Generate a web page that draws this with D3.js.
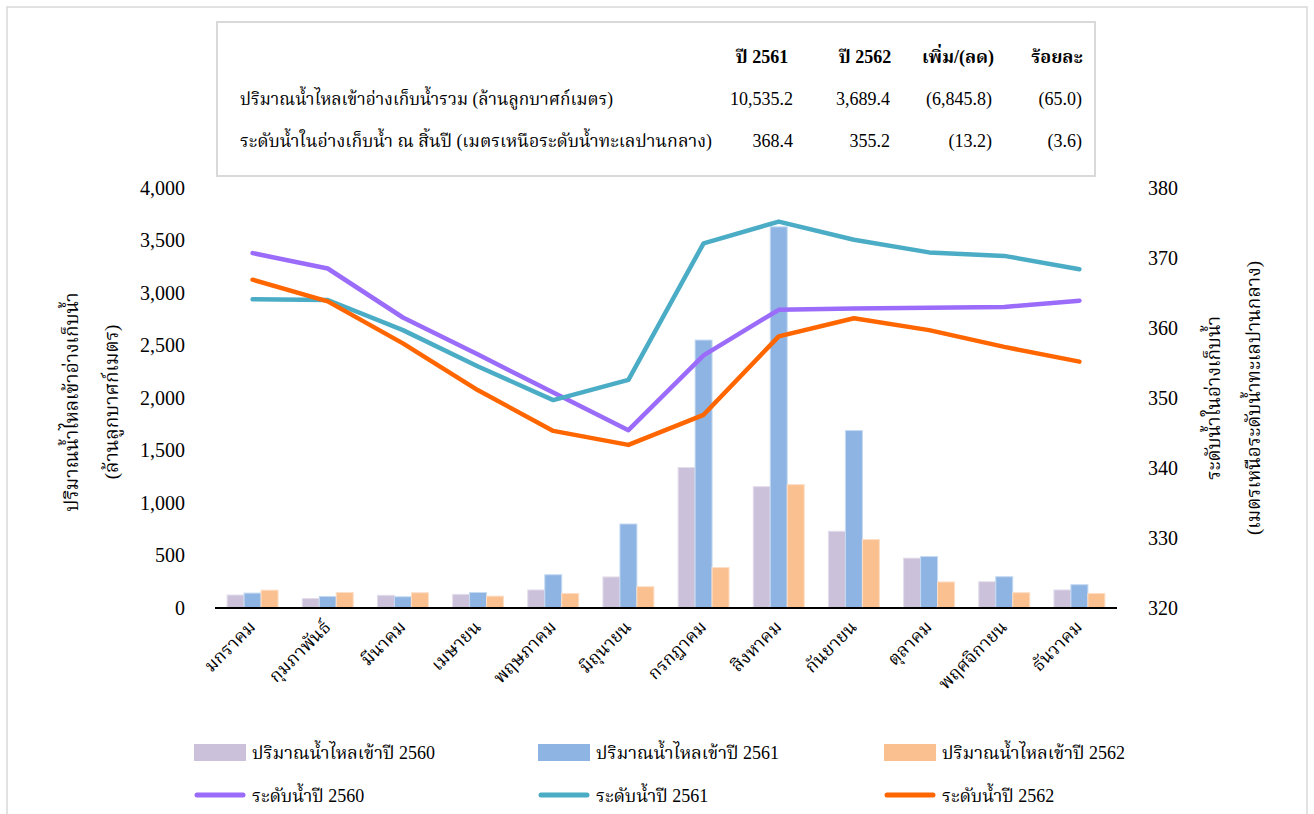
<!DOCTYPE html>
<html><head><meta charset="utf-8">
<script src="https://cdn.jsdelivr.net/npm/d3@7/dist/d3.min.js"></script>
<style>
body{margin:0;background:#fff;}
text{font-family:"Liberation Serif","Noto Serif Thai","Noto Sans Thai","Times New Roman",serif;fill:#000;}
</style></head>
<body><svg id="c" width="1314" height="814"></svg>
<script>
const months = ["มกราคม","กุมภาพันธ์","มีนาคม","เมษายน","พฤษภาคม","มิถุนายน","กรกฎาคม","สิงหาคม","กันยายน","ตุลาคม","พฤศจิกายน","ธันวาคม"];
const inflow2560 = [124, 90, 121, 130, 172, 296, 1338, 1156, 731, 475, 250, 172];
const inflow2561 = [142, 110, 107, 148, 317, 800, 2552, 3630, 1690, 490, 298, 222];
const inflow2562 = [170, 148, 145, 113, 139, 203, 385, 1175, 652, 248, 146, 139];
const level2560 = [370.7, 368.5, 361.5, 356.2, 350.8, 345.4, 356.1, 362.6, 362.8, 362.9, 363.0, 363.9];
const level2561 = [364.1, 364.0, 359.7, 354.5, 349.7, 352.6, 372.1, 375.2, 372.6, 370.8, 370.3, 368.4];
const level2562 = [366.9, 363.8, 357.8, 351.1, 345.3, 343.3, 347.6, 358.8, 361.4, 359.7, 357.3, 355.2];
const leftTicks = [0,500,1000,1500,2000,2500,3000,3500,4000];
const rightTicks = [320,330,340,350,360,370,380];
const barNames = ["ปริมาณน้ำไหลเข้าปี 2560","ปริมาณน้ำไหลเข้าปี 2561","ปริมาณน้ำไหลเข้าปี 2562"];
const lineNames = ["ระดับน้ำปี 2560","ระดับน้ำปี 2561","ระดับน้ำปี 2562"];
const tableHeader = ["ปี 2561","ปี 2562","เพิ่ม/(ลด)","ร้อยละ"];
const tableRows = [
  ["ปริมาณน้ำไหลเข้าอ่างเก็บน้ำรวม (ล้านลูกบาศก์เมตร)","10,535.2","3,689.4","(6,845.8)","(65.0)"],
  ["ระดับน้ำในอ่างเก็บน้ำ ณ สิ้นปี (เมตรเหนือระดับน้ำทะเลปานกลาง)","368.4","355.2","(13.2)","(3.6)"]
];
const barColors = ["#CCC1DA","#8EB4E3","#FAC090"];
const barStroke = ["#E4DEEC","#C6DAF1","#FCDFC7"];
const lineColors = ["#9B6BFA","#4BACC6","#FF6600"];

const svg = d3.select("#c");
svg.append("rect").attr("x",7).attr("y",7).attr("width",1300).attr("height",815)
  .attr("fill","#fff").attr("stroke","#d9d9d9").attr("stroke-width",1.5);

// table box
svg.append("rect").attr("x",217).attr("y",22).attr("width",878).attr("height",154)
  .attr("fill","#fff").attr("stroke","#d9d9d9").attr("stroke-width",2);
const colRight = [793, 890, 992, 1082];
const colCenter = [762, 865, 958, 1057];
tableHeader.forEach((h,i)=>{
  svg.append("text").attr("x",colCenter[i]).attr("y",63).attr("text-anchor","middle")
    .attr("font-size",18).attr("font-weight","bold").text(h);
});
const labelW = [373, 472];
tableRows.forEach((r,j)=>{
  const y = 105 + j*42;
  svg.append("text").attr("x",240).attr("y",y).attr("font-size",18)
    .attr("textLength",labelW[j]).attr("lengthAdjust","spacingAndGlyphs").text(r[0]);
  for(let i=1;i<5;i++){
    svg.append("text").attr("x",colRight[i-1]).attr("y",y).attr("text-anchor","end")
      .attr("font-size",18).text(r[i]);
  }
});

// scales
const x = d3.scaleBand().domain(months).range([215,1117]).padding(0);
const x1 = d3.scaleBand().domain([0,1,2]).range([12.1, x.bandwidth()-12.1]).padding(0);
const yL = d3.scaleLinear().domain([0,4000]).range([608,188]);
const yR = d3.scaleLinear().domain([320,380]).range([608,188]);

// axes
const axL = svg.append("g").attr("transform","translate(188,0)")
  .call(d3.axisLeft(yL).tickValues(leftTicks).tickSize(0).tickPadding(3).tickFormat(d3.format(",")));
axL.select(".domain").remove();
axL.selectAll("text").attr("font-size",20).attr("font-family","Liberation Serif").attr("fill","#000");
const axR = svg.append("g").attr("transform","translate(1145,0)")
  .call(d3.axisRight(yR).tickValues(rightTicks).tickSize(0).tickPadding(3));
axR.select(".domain").remove();
axR.selectAll("text").attr("font-size",20).attr("font-family","Liberation Serif").attr("fill","#000");

// bars
const series = [inflow2560, inflow2561, inflow2562];
series.forEach((s,k)=>{
  svg.append("g").selectAll("rect").data(s).join("rect")
    .attr("x",(d,i)=>x(months[i])+x1(k))
    .attr("width",x1.bandwidth())
    .attr("y",d=>yL(d))
    .attr("height",d=>yL(0)-yL(d))
    .attr("fill",barColors[k]).attr("stroke",barStroke[k]).attr("stroke-width",1);
});

// x axis line
svg.append("line").attr("x1",215).attr("x2",1117).attr("y1",608).attr("y2",608)
  .attr("stroke","#000").attr("stroke-width",2);

// lines
const levels = [level2560, level2561, level2562];
const lineGen = d3.line().x((d,i)=>x(months[i])+x.bandwidth()/2).y(d=>yR(d));
levels.forEach((s,k)=>{
  svg.append("path").datum(s).attr("d",lineGen).attr("fill","none")
    .attr("stroke",lineColors[k]).attr("stroke-width",4.5)
    .attr("stroke-linecap","round").attr("stroke-linejoin","round");
});

// x labels
svg.append("g").selectAll("text").data(months).join("text")
  .attr("transform",d=>`translate(${x(d)+x.bandwidth()/2+4},628) rotate(-45)`)
  .attr("text-anchor","end").attr("font-size",18).text(d=>d);

// axis titles
const tL = svg.append("text").attr("transform","translate(78,402) rotate(-90)")
  .attr("text-anchor","middle").attr("font-size",19);
tL.append("tspan").attr("x",0).attr("dy",0).text("ปริมาณน้ำไหลเข้าอ่างเก็บน้ำ");
tL.append("tspan").attr("x",0).attr("dy",40).text("(ล้านลูกบาศก์เมตร)");
const tR = svg.append("text").attr("transform","translate(1220,398) rotate(-90)")
  .attr("text-anchor","middle").attr("font-size",19);
tR.append("tspan").attr("x",0).attr("dy",0).text("ระดับน้ำในอ่างเก็บน้ำ");
tR.append("tspan").attr("x",0).attr("dy",40).text("(เมตรเหนือระดับน้ำทะเลปานกลาง)");

// legend
const legX = [194, 538, 884];
barNames.forEach((n,k)=>{
  svg.append("rect").attr("x",legX[k]).attr("y",744).attr("width",52).attr("height",17)
    .attr("fill",barColors[k]);
  svg.append("text").attr("x",legX[k]+58).attr("y",759).attr("font-size",18).text(n);
});
lineNames.forEach((n,k)=>{
  svg.append("line").attr("x1",legX[k]+3).attr("x2",legX[k]+49).attr("y1",795).attr("y2",795)
    .attr("stroke",lineColors[k]).attr("stroke-width",5).attr("stroke-linecap","round");
  svg.append("text").attr("x",legX[k]+58).attr("y",802).attr("font-size",18).text(n);
});
</script></body></html>
